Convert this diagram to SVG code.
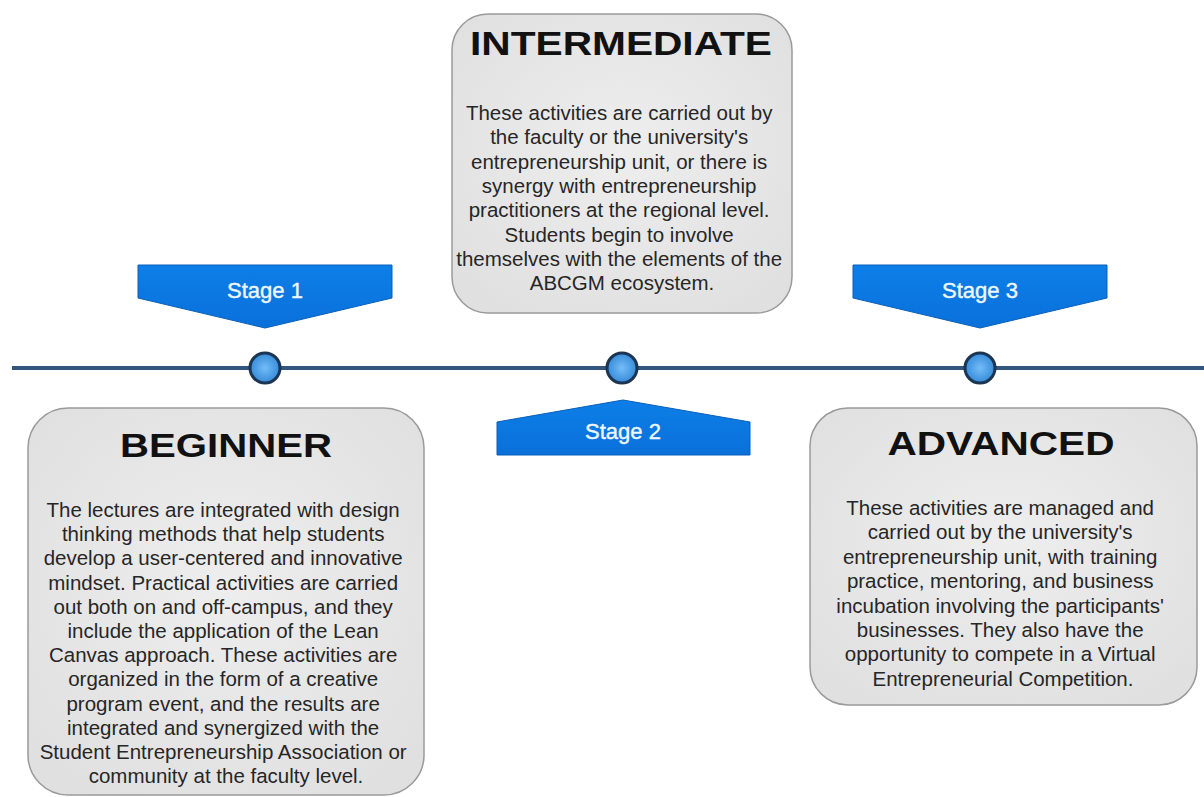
<svg xmlns="http://www.w3.org/2000/svg" width="1204" height="797" viewBox="0 0 1204 797">
  <defs>
    <radialGradient id="boxFill" cx="50%" cy="45%" r="65%">
      <stop offset="0" stop-color="#eeeeee"/>
      <stop offset="1" stop-color="#e0e0e0"/>
    </radialGradient>
    <radialGradient id="dotFill" cx="50%" cy="50%" r="55%">
      <stop offset="0" stop-color="#74bcf7"/>
      <stop offset="1" stop-color="#2f86d6"/>
    </radialGradient>
    <linearGradient id="tagFill" x1="0" y1="0" x2="0" y2="1">
      <stop offset="0" stop-color="#0d7fe8"/>
      <stop offset="1" stop-color="#0a70da"/>
    </linearGradient>
  </defs>
  <style>
    .box { fill: url(#boxFill); stroke: #9a9a9a; stroke-width: 1.5; }
    .title { font-family: "Liberation Sans", Arial, sans-serif; font-weight: bold; font-size: 33px; fill: #111; text-anchor: middle; }
    .body { font-family: "Liberation Sans", Arial, sans-serif; font-size: 20.5px; fill: #262626; text-anchor: middle; }
    .tag { fill: url(#tagFill); stroke: #0a5fb8; stroke-width: 1; }
    .tagText { font-family: "Liberation Sans", Arial, sans-serif; font-size: 22px; fill: #eef7ff; stroke: #eef7ff; stroke-width: 0.4; text-anchor: middle; }
    .timeline { stroke: #34557d; stroke-width: 4; fill: none; }
    .dot { fill: url(#dotFill); stroke: #1b3552; stroke-width: 3; }
  </style>

  <!-- timeline axis and milestone dots -->
  <g id="connectors">
    <line class="timeline" x1="12" y1="368" x2="1204" y2="368"/>
    <circle class="dot" cx="265" cy="368" r="15"/>
    <circle class="dot" cx="622" cy="368" r="15"/>
    <circle class="dot" cx="980" cy="368" r="15"/>
  </g>

  <!-- stage tags -->
  <g id="stage1">
    <polygon class="tag" points="138,265 392,265 392,298 265,328 138,298"/>
    <text class="tagText" x="265" y="298">Stage 1</text>
  </g>
  <g id="stage2">
    <polygon class="tag" points="497,455 750,455 750,422 623,400 497,422"/>
    <text class="tagText" x="623" y="439">Stage 2</text>
  </g>
  <g id="stage3">
    <polygon class="tag" points="853,265 1107,265 1107,298 980,328 853,298"/>
    <text class="tagText" x="980" y="298">Stage 3</text>
  </g>

  <!-- intermediate level -->
  <g id="intermediate">
    <rect class="box" x="452" y="14" width="340" height="299" rx="36" ry="36"/>
    <text class="title" x="621" y="55" textLength="302" lengthAdjust="spacingAndGlyphs">INTERMEDIATE</text>
    <text class="body" x="622" y="120">
      <tspan x="622">These activities are carried out by</tspan>
      <tspan x="622" dy="24.3">the faculty or the university's</tspan>
      <tspan x="622" dy="24.3">entrepreneurship unit, or there is</tspan>
      <tspan x="622" dy="24.3">synergy with entrepreneurship</tspan>
      <tspan x="622" dy="24.3">practitioners at the regional level.</tspan>
      <tspan x="622" dy="24.3">Students begin to involve</tspan>
      <tspan x="622" dy="24.3">themselves with the elements of the</tspan>
      <tspan x="622" dy="24.3">ABCGM ecosystem.</tspan>
    </text>
  </g>

  <!-- beginner level -->
  <g id="beginner">
    <rect class="box" x="28" y="408" width="396" height="387" rx="40" ry="40"/>
    <text class="title" x="226" y="457" textLength="212" lengthAdjust="spacingAndGlyphs">BEGINNER</text>
    <text class="body" x="226" y="517">
      <tspan x="226">The lectures are integrated with design</tspan>
      <tspan x="226" dy="24.2">thinking methods that help students</tspan>
      <tspan x="226" dy="24.2">develop a user-centered and innovative</tspan>
      <tspan x="226" dy="24.2">mindset. Practical activities are carried</tspan>
      <tspan x="226" dy="24.2">out both on and off-campus, and they</tspan>
      <tspan x="226" dy="24.2">include the application of the Lean</tspan>
      <tspan x="226" dy="24.2">Canvas approach. These activities are</tspan>
      <tspan x="226" dy="24.2">organized in the form of a creative</tspan>
      <tspan x="226" dy="24.2">program event, and the results are</tspan>
      <tspan x="226" dy="24.2">integrated and synergized with the</tspan>
      <tspan x="226" dy="24.2">Student Entrepreneurship Association or</tspan>
      <tspan x="226" dy="24.2">community at the faculty level.</tspan>
    </text>
  </g>

  <!-- advanced level -->
  <g id="advanced">
    <rect class="box" x="810" y="408" width="387" height="297" rx="38" ry="38"/>
    <text class="title" x="1001" y="455" textLength="227" lengthAdjust="spacingAndGlyphs">ADVANCED</text>
    <text class="body" x="1003" y="515">
      <tspan x="1003">These activities are managed and</tspan>
      <tspan x="1003" dy="24.4">carried out by the university's</tspan>
      <tspan x="1003" dy="24.4">entrepreneurship unit, with training</tspan>
      <tspan x="1003" dy="24.4">practice, mentoring, and business</tspan>
      <tspan x="1003" dy="24.4">incubation involving the participants'</tspan>
      <tspan x="1003" dy="24.4">businesses. They also have the</tspan>
      <tspan x="1003" dy="24.4">opportunity to compete in a Virtual</tspan>
      <tspan x="1003" dy="24.4">Entrepreneurial Competition.</tspan>
    </text>
  </g>
</svg>
